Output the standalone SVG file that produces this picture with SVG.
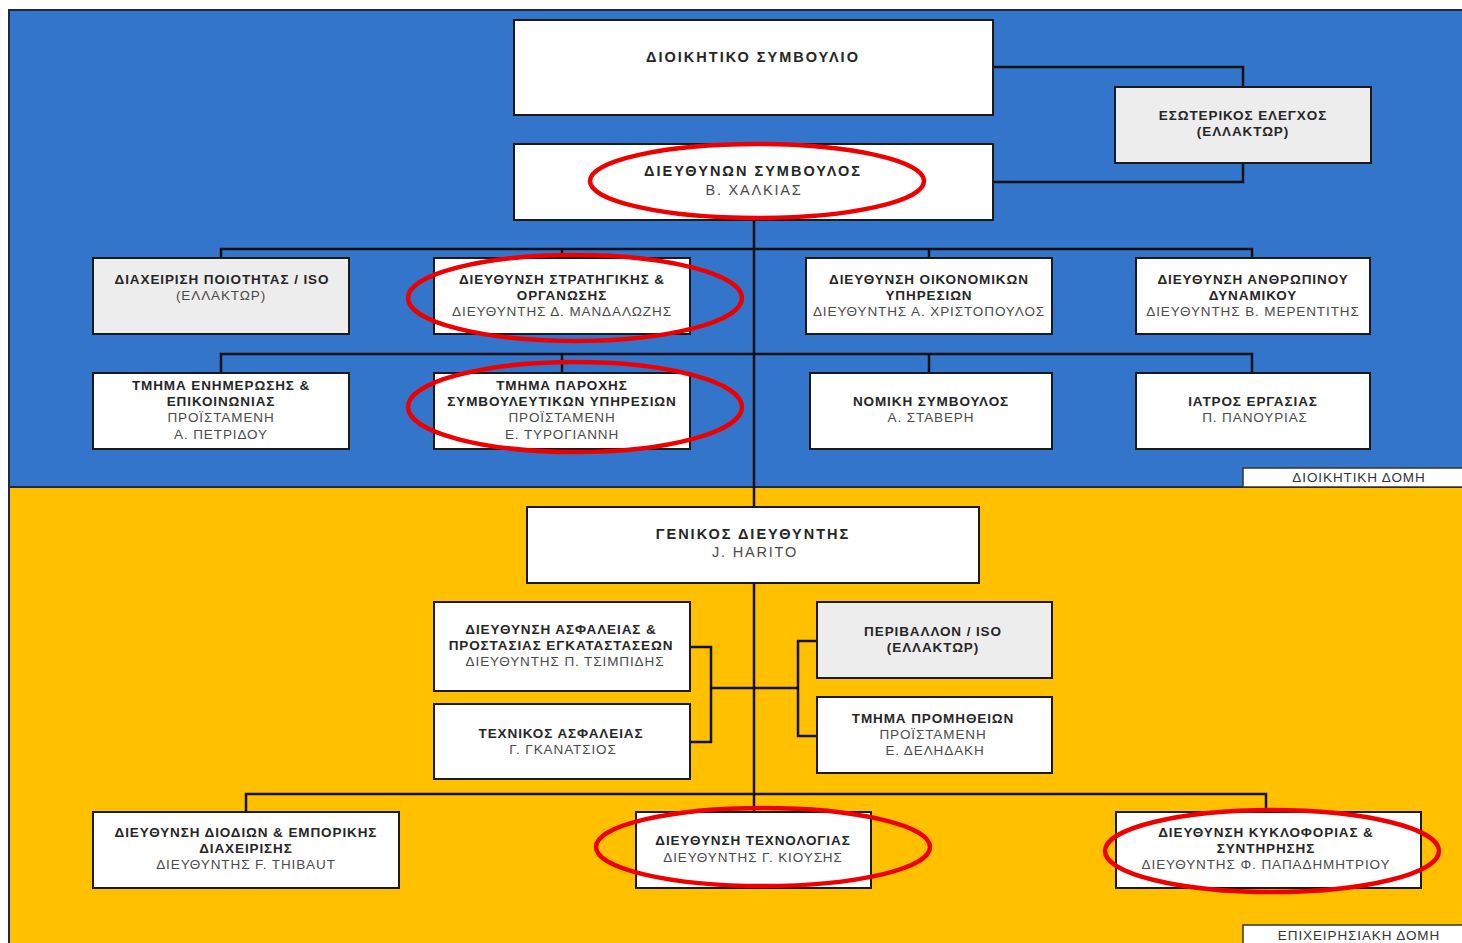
<svg xmlns="http://www.w3.org/2000/svg" width="1462" height="943" viewBox="0 0 1462 943">
<style>
.box{fill:#ffffff;stroke:#1a1a1a;stroke-width:2}
.gray{fill:#ededed;stroke:#1a1a1a;stroke-width:2}
.b{font-family:"Liberation Sans",Arial,sans-serif;font-size:13.5px;letter-spacing:0.9px;font-weight:bold;fill:#262626;text-anchor:middle}
.r{font-family:"Liberation Sans",Arial,sans-serif;font-size:13.5px;letter-spacing:0.9px;fill:#4a4a4a;text-anchor:middle}
.B{font-family:"Liberation Sans",Arial,sans-serif;font-size:14.5px;letter-spacing:2px;font-weight:bold;fill:#262626;text-anchor:middle}
.R{font-family:"Liberation Sans",Arial,sans-serif;font-size:14.5px;letter-spacing:1.8px;fill:#4a4a4a;text-anchor:middle}
.ln{fill:none;stroke:#111111;stroke-width:2.5}
.ring{fill:none;stroke:#ee0000;stroke-width:4.5}
.tag{fill:#ffffff;stroke:#333333;stroke-width:1.5}
</style>
<rect x="0" y="0" width="1462" height="943" fill="#ffffff"/>
<rect x="9" y="10" width="1460" height="477" fill="#3475CC" stroke="#1e2a44" stroke-width="2"/>
<rect x="9" y="487" width="1460" height="460" fill="#FFC000" stroke="#1e2a44" stroke-width="2"/>

<g id="connectors">
<path class="ln" d="M993 67 H1243 V87 M993 182 H1243 V163"/>
<path class="ln" d="M754 220 V507"/>
<path class="ln" d="M221 258 V249 H1252 V258 M562 249 V258 M929 249 V258"/>
<path class="ln" d="M221 373 V354 H1252 V373 M562 354 V373 M929 354 V373"/>
<path class="ln" d="M754 583 V812"/>
<path class="ln" d="M690 647 H711 V742 H690 M711 688 H798 M817 641 H798 V736 H817"/>
<path class="ln" d="M246 812 V794 H1266 V812"/>
</g>

<g id="board"><rect class="box" x="514" y="20" width="479" height="95"/><text class="B" x="753" y="62">ΔΙΟΙΚΗΤΙΚΟ ΣΥΜΒΟΥΛΙΟ</text></g>
<g id="ceo"><rect class="box" x="514" y="144" width="479" height="76"/><text class="B" x="753" y="176">ΔΙΕΥΘΥΝΩΝ ΣΥΜΒΟΥΛΟΣ</text><text class="R" x="754" y="195">Β. ΧΑΛΚΙΑΣ</text></g>
<g id="audit"><rect class="gray" x="1115" y="87" width="256" height="76"/><text class="b" x="1243" y="120">ΕΣΩΤΕΡΙΚΟΣ ΕΛΕΓΧΟΣ</text><text class="b" x="1243" y="136">(ΕΛΛΑΚΤΩΡ)</text></g>

<g id="quality"><rect class="gray" x="93" y="258" width="256" height="76"/><text class="b" x="222" y="284">ΔΙΑΧΕΙΡΙΣΗ ΠΟΙΟΤΗΤΑΣ / ISO</text><text class="r" x="221" y="300">(ΕΛΛΑΚΤΩΡ)</text></g>
<g id="strategy"><rect class="box" x="434" y="258" width="256" height="76"/><text class="b" x="562" y="284">ΔΙΕΥΘΥΝΣΗ ΣΤΡΑΤΗΓΙΚΗΣ &amp;</text><text class="b" x="562" y="300">ΟΡΓΑΝΩΣΗΣ</text><text class="r" x="562" y="316">ΔΙΕΥΘΥΝΤΗΣ  Δ. ΜΑΝΔΑΛΩΖΗΣ</text></g>
<g id="finance"><rect class="box" x="806" y="258" width="246" height="76"/><text class="b" x="929" y="284">ΔΙΕΥΘΥΝΣΗ ΟΙΚΟΝΟΜΙΚΩΝ</text><text class="b" x="929" y="300">ΥΠΗΡΕΣΙΩΝ</text><text class="r" x="929" y="316">ΔΙΕΥΘΥΝΤΗΣ  Α. ΧΡΙΣΤΟΠΟΥΛΟΣ</text></g>
<g id="hr"><rect class="box" x="1136" y="258" width="234" height="76"/><text class="b" x="1253" y="284">ΔΙΕΥΘΥΝΣΗ ΑΝΘΡΩΠΙΝΟΥ</text><text class="b" x="1253" y="300">ΔΥΝΑΜΙΚΟΥ</text><text class="r" x="1253" y="316">ΔΙΕΥΘΥΝΤΗΣ Β. ΜΕΡΕΝΤΙΤΗΣ</text></g>

<g id="comms"><rect class="box" x="93" y="373" width="256" height="76"/><text class="b" x="221" y="390">ΤΜΗΜΑ ΕΝΗΜΕΡΩΣΗΣ &amp;</text><text class="b" x="221" y="406">ΕΠΙΚΟΙΝΩΝΙΑΣ</text><text class="r" x="221" y="422">ΠΡΟΪΣΤΑΜΕΝΗ</text><text class="r" x="221" y="439">Α. ΠΕΤΡΙΔΟΥ</text></g>
<g id="advisory"><rect class="box" x="434" y="373" width="256" height="76"/><text class="b" x="562" y="390">ΤΜΗΜΑ  ΠΑΡΟΧΗΣ</text><text class="b" x="562" y="406">ΣΥΜΒΟΥΛΕΥΤΙΚΩΝ ΥΠΗΡΕΣΙΩΝ</text><text class="r" x="562" y="422">ΠΡΟΪΣΤΑΜΕΝΗ</text><text class="r" x="562" y="439">Ε. ΤΥΡΟΓΙΑΝΝΗ</text></g>
<g id="legal"><rect class="box" x="810" y="373" width="242" height="76"/><text class="b" x="931" y="406">ΝΟΜΙΚΗ ΣΥΜΒΟΥΛΟΣ</text><text class="r" x="931" y="422">Α. ΣΤΑΒΕΡΗ</text></g>
<g id="doctor"><rect class="box" x="1136" y="373" width="234" height="76"/><text class="b" x="1253" y="406">ΙΑΤΡΟΣ ΕΡΓΑΣΙΑΣ</text><text class="r" x="1255" y="422">Π. ΠΑΝΟΥΡΙΑΣ</text></g>

<g id="tag-admin"><rect class="tag" x="1243" y="468" width="225" height="19"/><text class="r" x="1359" y="482" style="fill:#333">ΔΙΟΙΚΗΤΙΚΗ ΔΟΜΗ</text></g>

<g id="gm"><rect class="box" x="527" y="507" width="452" height="76"/><text class="B" x="753" y="539">ΓΕΝΙΚΟΣ ΔΙΕΥΘΥΝΤΗΣ</text><text class="R" x="755" y="557">J. HARITO</text></g>
<g id="safety"><rect class="box" x="434" y="602" width="256" height="89"/><text class="b" x="561" y="634">ΔΙΕΥΘΥΝΣΗ ΑΣΦΑΛΕΙΑΣ &amp;</text><text class="b" x="561" y="650">ΠΡΟΣΤΑΣΙΑΣ ΕΓΚΑΤΑΣΤΑΣΕΩΝ</text><text class="r" x="565" y="666">ΔΙΕΥΘΥΝΤΗΣ Π. ΤΣΙΜΠΙΔΗΣ</text></g>
<g id="tech-safety"><rect class="box" x="434" y="704" width="256" height="75"/><text class="b" x="561" y="738">ΤΕΧΝΙΚΟΣ ΑΣΦΑΛΕΙΑΣ</text><text class="r" x="563" y="754">Γ. ΓΚΑΝΑΤΣΙΟΣ</text></g>
<g id="environment"><rect class="gray" x="817" y="602" width="235" height="76"/><text class="b" x="933" y="636">ΠΕΡΙΒΑΛΛΟΝ / ISO</text><text class="b" x="933" y="652">(ΕΛΛΑΚΤΩΡ)</text></g>
<g id="procurement"><rect class="box" x="817" y="697" width="235" height="76"/><text class="b" x="933" y="723">ΤΜΗΜΑ ΠΡΟΜΗΘΕΙΩΝ</text><text class="r" x="933" y="739">ΠΡΟΪΣΤΑΜΕΝΗ</text><text class="r" x="935" y="755">Ε. ΔΕΛΗΔΑΚΗ</text></g>

<g id="tolls"><rect class="box" x="93" y="812" width="306" height="76"/><text class="b" x="246" y="837">ΔΙΕΥΘΥΝΣΗ ΔΙΟΔΙΩΝ &amp; ΕΜΠΟΡΙΚΗΣ</text><text class="b" x="246" y="853">ΔΙΑΧΕΙΡΙΣΗΣ</text><text class="r" x="246" y="869">ΔΙΕΥΘΥΝΤΗΣ F. THIBAUT</text></g>
<g id="technology"><rect class="box" x="636" y="812" width="235" height="76"/><text class="b" x="753" y="845">ΔΙΕΥΘΥΝΣΗ ΤΕΧΝΟΛΟΓΙΑΣ</text><text class="r" x="753" y="862">ΔΙΕΥΘΥΝΤΗΣ  Γ. ΚΙΟΥΣΗΣ</text></g>
<g id="traffic"><rect class="box" x="1116" y="812" width="305" height="76"/><text class="b" x="1266" y="837">ΔΙΕΥΘΥΝΣΗ ΚΥΚΛΟΦΟΡΙΑΣ &amp;</text><text class="b" x="1266" y="853">ΣΥΝΤΗΡΗΣΗΣ</text><text class="r" x="1266" y="869">ΔΙΕΥΘΥΝΤΗΣ  Φ. ΠΑΠΑΔΗΜΗΤΡΙΟΥ</text></g>

<g id="tag-ops"><rect class="tag" x="1243" y="925" width="225" height="20"/><text class="r" x="1359" y="940" style="fill:#333">ΕΠΙΧΕΙΡΗΣΙΑΚΗ ΔΟΜΗ</text></g>

<g id="highlights">
<ellipse class="ring" cx="757" cy="181" rx="167" ry="37"/>
<ellipse class="ring" cx="575" cy="298" rx="167" ry="43"/>
<ellipse class="ring" cx="575" cy="407" rx="167" ry="45"/>
<ellipse class="ring" cx="763" cy="847" rx="167" ry="39"/>
<ellipse class="ring" cx="1272" cy="851" rx="167" ry="41"/>
</g>
</svg>
